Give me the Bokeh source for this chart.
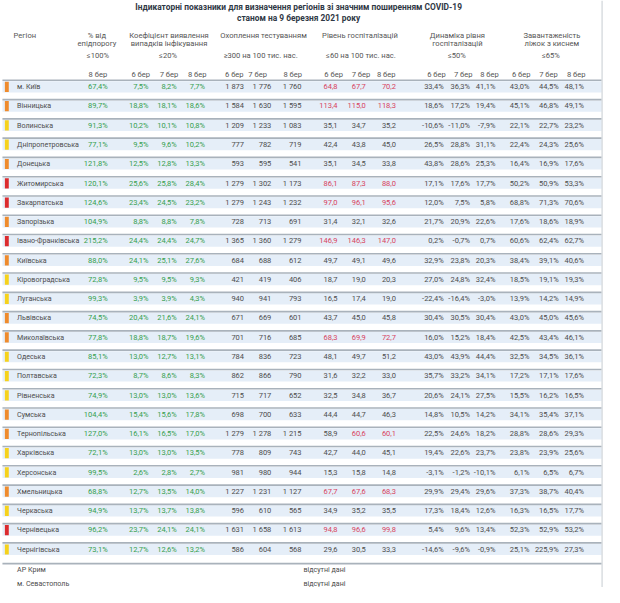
from bokeh.plotting import figure
from bokeh.models import ColumnDataSource, Range1d
from bokeh.core.properties import value
from bokeh.embed import file_html
from bokeh.resources import INLINE

# ---------------- data ----------------
title1 = "Індикаторні показники для визначення регіонів зі значним поширенням COVID-19"
title2 = "станом на 9 березня 2021 року"

regions = ["м. Київ", "Вінницька", "Волинська", "Дніпропетровська", "Донецька",
           "Житомирська", "Закарпатська", "Запорізька", "Івано-Франківська", "Київська",
           "Кіровоградська", "Луганська", "Львівська", "Миколаївська", "Одеська",
           "Полтавська", "Рівненська", "Сумська", "Тернопільська", "Харківська",
           "Херсонська", "Хмельницька", "Черкаська", "Чернівецька", "Чернігівська"]

risk = ["orange", "orange", "yellow", "yellow", "orange",
        "red", "red", "orange", "red", "orange",
        "yellow", "yellow", "orange", "orange", "yellow",
        "yellow", "yellow", "orange", "orange", "yellow",
        "yellow", "orange", "yellow", "red", "yellow"]

epid = [67.4, 89.7, 91.3, 77.1, 121.8, 120.1, 124.6, 104.9, 215.2, 88.0, 72.8, 99.3, 74.5,
        77.8, 85.1, 72.3, 74.9, 104.4, 127.0, 72.1, 99.5, 68.8, 94.9, 96.2, 73.1]

coef6 = [7.5, 18.8, 10.2, 9.5, 12.5, 25.6, 23.4, 8.8, 24.4, 24.1, 9.5, 3.9, 20.4, 18.8, 13.0,
         8.7, 13.0, 15.4, 16.1, 13.0, 2.6, 12.7, 13.7, 23.7, 12.7]
coef7 = [8.2, 18.1, 10.1, 9.6, 12.8, 25.8, 24.5, 8.8, 24.4, 25.1, 9.5, 3.9, 21.6, 18.7, 12.7,
         8.6, 13.0, 15.6, 16.5, 13.0, 2.8, 13.5, 13.7, 24.1, 12.6]
coef8 = [7.7, 18.6, 10.8, 10.2, 13.3, 28.4, 23.2, 7.8, 24.7, 27.6, 9.3, 4.3, 24.1, 19.6, 13.1,
         8.3, 13.6, 17.8, 17.0, 13.5, 2.7, 14.0, 13.8, 24.1, 13.2]

test6 = [1873, 1584, 1209, 777, 593, 1279, 1279, 728, 1365, 684, 421, 940, 671, 701, 784,
         862, 715, 698, 1279, 778, 981, 1227, 596, 1631, 586]
test7 = [1776, 1630, 1233, 782, 595, 1302, 1243, 713, 1360, 688, 419, 941, 669, 716, 836,
         866, 717, 700, 1278, 809, 980, 1231, 610, 1658, 604]
test8 = [1760, 1595, 1083, 719, 541, 1173, 1232, 691, 1279, 612, 406, 793, 601, 685, 723,
         790, 652, 633, 1215, 743, 944, 1127, 565, 1613, 568]

hosp6 = [64.8, 113.4, 35.1, 42.4, 35.1, 86.1, 97.0, 31.4, 146.9, 49.7, 18.7, 16.5, 43.7, 68.3,
         48.1, 31.6, 32.5, 44.4, 58.9, 42.7, 15.3, 67.7, 34.9, 94.8, 29.6]
hosp7 = [67.7, 115.0, 34.7, 43.8, 34.5, 87.3, 96.1, 32.1, 146.3, 49.1, 19.0, 17.4, 45.0, 69.9,
         49.7, 32.2, 34.8, 44.7, 60.6, 44.0, 15.8, 67.6, 35.2, 96.6, 30.5]
hosp8 = [70.2, 118.3, 35.2, 45.0, 33.8, 88.0, 95.6, 32.6, 147.0, 49.6, 20.3, 19.0, 45.8, 72.7,
         51.2, 33.0, 36.7, 46.3, 60.1, 45.1, 14.8, 68.3, 35.5, 99.8, 33.3]

dyn6 = [33.4, 18.6, -10.6, 26.5, 43.8, 17.1, 12.0, 21.7, 0.2, 32.9, 27.0, -22.4, 30.4, 16.0,
        43.0, 35.7, 20.6, 14.8, 22.5, 19.4, -3.1, 29.9, 17.3, 5.4, -14.6]
dyn7 = [36.3, 17.2, -11.0, 28.8, 28.6, 17.6, 7.5, 20.9, -0.7, 23.8, 24.8, -16.4, 30.5, 15.2,
        43.9, 33.2, 24.1, 10.5, 24.6, 22.6, -1.2, 29.4, 18.4, 9.6, -9.6]
dyn8 = [41.1, 19.4, -7.9, 31.1, 25.3, 17.7, 5.8, 22.6, 0.7, 20.3, 32.4, -3.0, 30.4, 18.4,
        44.4, 34.1, 27.5, 14.2, 18.2, 23.7, -10.1, 29.6, 12.6, 13.4, -0.9]

beds6 = [43.0, 45.1, 22.1, 22.4, 16.4, 50.2, 68.8, 17.6, 60.6, 38.4, 18.5, 13.9, 43.0, 42.5,
         32.5, 17.2, 15.5, 34.1, 28.8, 23.8, 6.1, 37.3, 16.3, 52.3, 25.1]
beds7 = [44.5, 46.8, 22.7, 24.3, 16.9, 50.9, 71.3, 18.6, 62.4, 39.1, 19.1, 14.2, 45.0, 43.4,
         34.5, 17.1, 16.2, 35.4, 28.6, 23.9, 6.5, 38.7, 16.5, 52.9, 225.9]
beds8 = [48.1, 49.1, 23.2, 25.6, 17.6, 53.3, 70.6, 18.9, 62.7, 40.6, 19.3, 14.9, 45.6, 46.1,
         36.1, 17.6, 16.5, 37.1, 29.3, 25.6, 6.7, 40.4, 17.7, 53.2, 27.3]

missing_regions = ["АР Крим", "м. Севастополь"]
missing_label = "відсутні дані"

day_labels = ["6 бер", "7 бер", "8 бер"]

# ---------------- styles ----------------
FONT = "Roboto"
TITLE_FONT = "Roboto"
GREEN = "#35a04e"
RED = "#d8435e"
DARK = "#4d4d4d"
HEAD = "#555555"
RISK_COL = {"orange": "#ef8b2c", "yellow": "#f6d21b", "red": "#dc2b2e"}

p = figure(width=604, height=587, x_range=Range1d(0, 620), y_range=Range1d(603, 0),
           output_backend="svg", toolbar_location=None, min_border=0)
p.axis.visible = False
p.grid.visible = False
p.outline_line_color = None
p.background_fill_color = "white"
p.border_fill_color = "white"

n = len(regions)
Y0, DY = 88.5, 19.8
cy = [Y0 + DY * i for i in range(n)]

# row bands and separator lines
p.quad(left=2, right=617, top=[c - 5.5 for c in cy], bottom=[c + 6.0 for c in cy],
       fill_color="#e5eef8", line_color=None)
line_y = [c - 6.5 for c in cy] + [cy[-1] + 14.8]
p.segment(x0=2, x1=617, y0=line_y, y1=line_y, line_color="#a9b2bb", line_width=1.6)
# right border
p.segment(x0=[617.5], y0=[0], x1=[617.5], y1=[603], line_color="#c6ccd2", line_width=1)

# risk markers
p.quad(left=4.5, right=8.5, top=[c - 5 for c in cy], bottom=[c + 5.5 for c in cy],
       fill_color=[RISK_COL[r] for r in risk], line_color=None)


def txt(xs, ys, texts, align="left", color=DARK, size=8.0, font=FONT, style="normal"):
    if isinstance(color, str):
        color = [color] * len(texts)
    src = ColumnDataSource(dict(x=xs, y=ys, t=texts, c=color))
    p.text(x="x", y="y", text="t", source=src, text_align=align, text_baseline="middle",
           text_color="c", text_font_size=f"{size}px", text_font=value(font),
           text_font_style=style)


def pct(v):
    return f"{v:.1f}".replace(".", ",") + "%"


def dec(v):
    return f"{v:.1f}".replace(".", ",")


def num(v):
    return f"{v:,}".replace(",", " ")


# titles
txt([306], [6.5], [title1], "center", "#2f3845", 8.4, TITLE_FONT, "bold")
txt([306], [17.5], [title2], "center", "#2f3845", 8.4, TITLE_FONT, "bold")

# column headers
hs = 7.6
txt([25], [36], ["Регіон"], "center", HEAD, hs)
txt([99, 99], [36, 44.5], ["% від", "епідпорогу"], "center", HEAD, hs)
txt([100], [57], ["≤100%"], "center", HEAD, hs)
txt([100], [76], ["8 бер"], "center", HEAD, hs)

txt([173, 173], [36, 44.5], ["Коефіцієнт виявлення", "випадків інфікування"], "center", HEAD, hs)
txt([172], [57], ["≤20%"], "center", HEAD, hs)
txt([144, 173, 202], [76] * 3, day_labels, "center", HEAD, hs)

txt([270], [36], ["Охоплення тестуванням"], "center", HEAD, hs)
txt([267], [57], ["≥300 на 100 тис. нас."], "center", HEAD, hs)
txt([240, 264, 300], [76] * 3, day_labels, "center", HEAD, hs)

txt([369], [36], ["Рівень госпіталізацій"], "center", HEAD, hs)
txt([370], [57], ["≤60 на 100 тис. нас."], "center", HEAD, hs)
txt([342, 370, 396], [76] * 3, day_labels, "center", HEAD, hs)

txt([469, 469], [36, 44.5], ["Динаміка рівня", "госпіталізацій"], "center", HEAD, hs)
txt([468.5], [57], ["≤50%"], "center", HEAD, hs)
txt([447.5, 475, 502], [76] * 3, day_labels, "center", HEAD, hs)

txt([566, 566], [36, 44.5], ["Завантаженість", "ліжок з киснем"], "center", HEAD, hs)
txt([565], [57], ["≤65%"], "center", HEAD, hs)
txt([534.5, 562.5, 591], [76] * 3, day_labels, "center", HEAD, hs)

# body
vs = 7.5
txt([17] * n, cy, regions, "left", DARK, 7.1)
txt([110] * n, cy, [pct(v) for v in epid], "right", GREEN, vs)
for col, xr in zip([coef6, coef7, coef8], [152, 181, 210]):
    txt([xr] * n, cy, [pct(v) for v in col], "right", GREEN, vs)
for col, xr in zip([test6, test7, test8], [250, 278, 309]):
    txt([xr] * n, cy, [num(v) for v in col], "right", DARK, vs)
for col, xr in zip([hosp6, hosp7, hosp8], [346, 375, 406]):
    txt([xr] * n, cy, [dec(v) for v in col], "right",
        [RED if v > 60 else DARK for v in col], vs)
for col, xr in zip([dyn6, dyn7, dyn8], [455, 482, 508]):
    txt([xr] * n, cy, [pct(v) for v in col], "right", DARK, vs)
for col, xr in zip([beds6, beds7, beds8], [543, 573, 599]):
    txt([xr] * n, cy, [pct(v) for v in col], "right", DARK, vs)

# missing data rows
my = [584.5, 599]
txt([17, 17], my, missing_regions, "left", DARK, 7.1)
txt([311, 311], my, [missing_label] * 2, "left", DARK, 7.1)

open("out.html", "w").write(file_html(p, INLINE))
